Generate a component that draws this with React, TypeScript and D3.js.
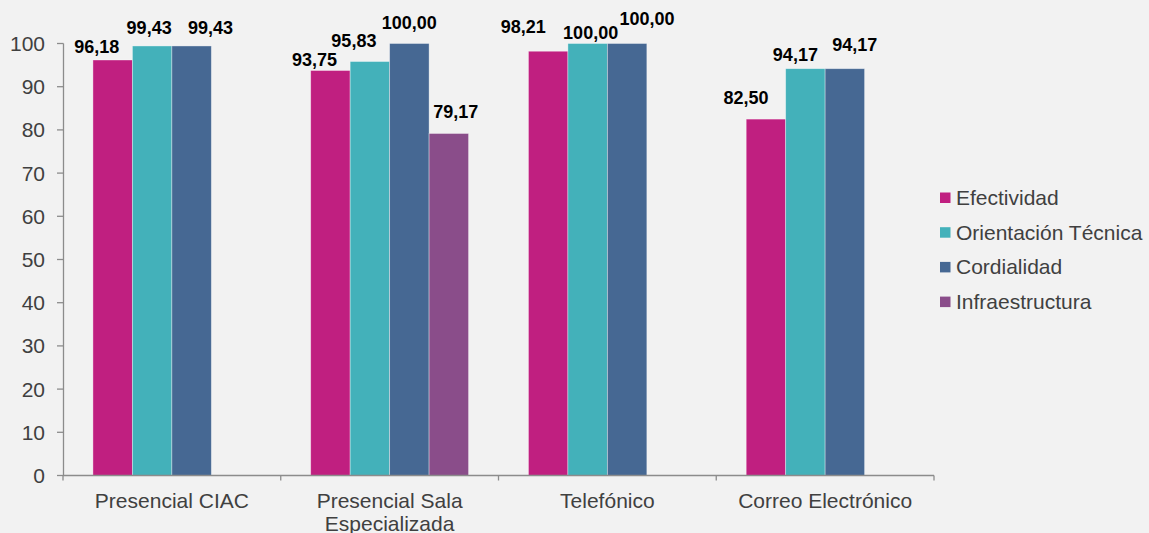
import React from "react";
import * as d3 from "d3";

const categories: string[][] = [
  ["Presencial CIAC"],
  ["Presencial Sala", "Especializada"],
  ["Telefónico"],
  ["Correo Electrónico"],
];
const seriesNames = ["Efectividad", "Orientación Técnica", "Cordialidad", "Infraestructura"];
const efectividad = [96.18, 93.75, 98.21, 82.5];
const orientacion = [99.43, 95.83, 100.0, 94.17];
const cordialidad = [99.43, 100.0, 100.0, 94.17];
const infraestructura = [null, 79.17, null, null];
const yTicks = [0, 10, 20, 30, 40, 50, 60, 70, 80, 90, 100];
const colors = ["#c01f80", "#43b1ba", "#466893", "#8a4d8a"];

// label nudges [dx, gap above bar] per series, per category (layout only)
const labelNudge: [number, number][][] = [
  [[-16, 7], [-16, 5], [-25, 18], [-20, 15]],
  [[-3, 12], [-16, 15], [3, 5], [-10, 8]],
  [[19, 12], [0, 15], [20, 19], [10, 18]],
  [[0, 8], [7, 15], [0, 8], [0, 8]],
];

const W = 1149;
const H = 533;

export default function App() {
  const series = [efectividad, orientacion, cordialidad, infraestructura];
  const x0 = d3
    .scaleBand<number>()
    .domain(d3.range(categories.length))
    .range([63, 934])
    .paddingInner(0.275)
    .paddingOuter(0.1375);
  const x1 = d3
    .scaleBand<number>()
    .domain(d3.range(seriesNames.length))
    .range([0, x0.bandwidth()]);
  const y = d3.scaleLinear().domain([0, 100]).range([475.5, 43.5]);
  const step = x0.step();
  const axisColor = "#8c8c8c";
  const textColor = "#404040";
  const font = "'Liberation Sans', Arial, sans-serif";
  const fs = 21;

  return (
    <div style={{ position: "absolute", left: 0, top: 0 }}>
      <svg width={W} height={H} style={{ display: "block", background: "#f2f2f2" }} fontFamily={font}>
        <rect x={0} y={0} width={W} height={H} fill="#f2f2f2" />
        {/* bars */}
        {series.map((vals, si) =>
          vals.map((v, ci) =>
            v == null ? null : (
              <rect
                key={`b${si}-${ci}`}
                x={(x0(ci) as number) + (x1(si) as number)}
                y={y(v)}
                width={x1.bandwidth()}
                height={y(0) - y(v)}
                fill={colors[si]}
                stroke="#ffffff"
                strokeOpacity={0.45}
                strokeWidth={0.8}
              />
            )
          )
        )}
        {/* y axis */}
        <line x1={63.5} x2={63.5} y1={y(100)} y2={y(0)} stroke={axisColor} strokeWidth={1.3} />
        {yTicks.map((t) => (
          <g key={`yt${t}`}>
            <line x1={57} x2={63.5} y1={y(t)} y2={y(t)} stroke={axisColor} strokeWidth={1.3} />
            <text x={45} y={y(t)} dy="0.36em" textAnchor="end" fontSize={fs} fill={textColor}>
              {t}
            </text>
          </g>
        ))}
        {/* x axis */}
        <line x1={63} x2={934} y1={y(0)} y2={y(0)} stroke={axisColor} strokeWidth={1.3} />
        {d3.range(categories.length + 1).map((i) => {
          const xx = 63 + i * step;
          return <line key={`xt${i}`} x1={xx} x2={xx} y1={y(0)} y2={y(0) + 5} stroke={axisColor} strokeWidth={1.3} />;
        })}
        {categories.map((lines, ci) => (
          <text
            key={`c${ci}`}
            x={(x0(ci) as number) + x0.bandwidth() / 2}
            y={507.5}
            textAnchor="middle"
            fontSize={fs}
            fill={textColor}
          >
            {lines.map((l, li) => (
              <tspan key={li} x={(x0(ci) as number) + x0.bandwidth() / 2} dy={li === 0 ? 0 : 23}>
                {l}
              </tspan>
            ))}
          </text>
        ))}
        {/* value labels */}
        {series.map((vals, si) =>
          vals.map((v, ci) => {
            if (v == null) return null;
            const [dx, gap] = labelNudge[si][ci];
            const cx = (x0(ci) as number) + (x1(si) as number) + x1.bandwidth() / 2 + dx;
            return (
              <text
                key={`l${si}-${ci}`}
                x={cx}
                y={y(v) - gap}
                textAnchor="middle"
                fontSize={18}
                fontWeight="bold"
                fill="#000000"
              >
                {d3.format(".2f")(v).replace(".", ",")}
              </text>
            );
          })
        )}
        {/* legend */}
        {seriesNames.map((name, i) => {
          const ly = 197.5 + i * 34.7;
          return (
            <g key={`lg${i}`}>
              <rect x={940} y={ly - 5} width={10.5} height={10.5} fill={colors[i]} />
              <text x={956} y={ly} dy="0.36em" fontSize={fs} fill={textColor}>
                {name}
              </text>
            </g>
          );
        })}
      </svg>
    </div>
  );
}
